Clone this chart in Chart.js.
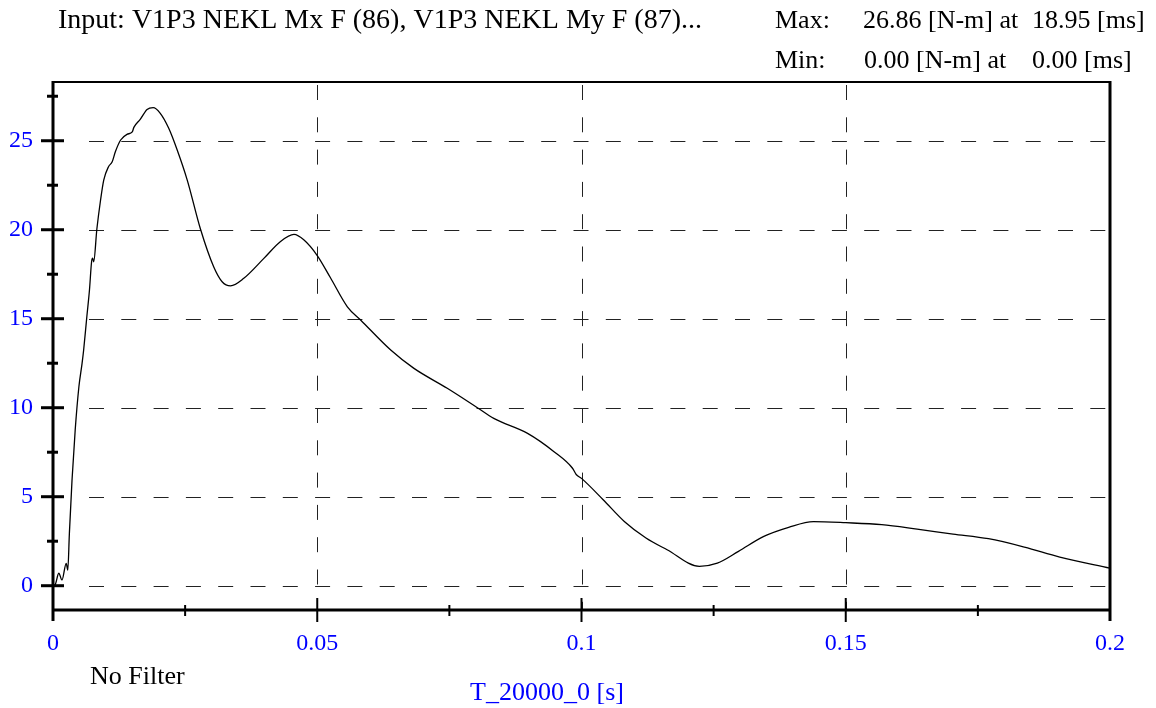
<!DOCTYPE html>
<html>
<head>
<meta charset="utf-8">
<script src="https://cdn.jsdelivr.net/npm/chart.js@4"></script>
<style>
  html, body { margin: 0; padding: 0; background: #fff; }
  canvas { display: block; }
</style>
</head>
<body>
<canvas id="momentChart" width="1156" height="708"></canvas>
<script>
// time [s] and resultant neck moment [N-m]
const times = [
  0, 0.0004, 0.0011, 0.0017, 0.0025, 0.0028, 0.0031, 0.0036, 0.0042, 0.0049,
  0.0055, 0.0058, 0.0064, 0.0069, 0.0073, 0.0075, 0.0077, 0.0083, 0.0090, 0.0096,
  0.0105, 0.0112, 0.0118, 0.0128, 0.0140, 0.0150, 0.0153, 0.0165, 0.0178, 0.01895,
  0.0203, 0.0219, 0.0235, 0.0254, 0.0279, 0.0304, 0.0320, 0.0336, 0.0361, 0.0399,
  0.0430, 0.0456, 0.0475, 0.0500, 0.0525, 0.0557, 0.0582, 0.0639, 0.0683, 0.0746,
  0.0803, 0.0834, 0.0898, 0.0948, 0.0983, 0.0990, 0.1000, 0.1041, 0.1081, 0.1122,
  0.1162, 0.1223, 0.1257, 0.1297, 0.1345, 0.1392, 0.1439, 0.1500, 0.1568, 0.1635,
  0.1703, 0.1770, 0.1838, 0.1905, 0.2000
];
const moments = [
  0, 0.05, 0.70, 0.32, 1.26, 0.88, 2.94, 5.94, 8.75, 11.18,
  12.49, 13.24, 15.11, 16.61, 18.2, 18.4, 18.2, 20.04, 21.67, 22.79,
  23.54, 23.82, 24.38, 25.04, 25.36, 25.5, 25.75, 26.2, 26.76, 26.86,
  26.54, 25.70, 24.48, 22.79, 20.04, 17.92, 17.08, 16.85, 17.27, 18.39,
  19.33, 19.74, 19.42, 18.55, 17.3, 15.67, 14.93, 13.24, 12.21, 11.09,
  10.0, 9.40, 8.56, 7.53, 6.60, 6.25, 6.03, 4.83, 3.61, 2.68,
  2.02, 1.09, 1.27, 1.93, 2.77, 3.28, 3.60, 3.54, 3.43, 3.18,
  2.90, 2.64, 2.17, 1.61, 0.99
];

const xTicks = [0, 0.05, 0.1, 0.15, 0.2];
const xTickLabels = ['0', '0.05', '0.1', '0.15', '0.2'];
const xMinorTicks = [0.025, 0.075, 0.125, 0.175];
const yTicks = [0, 5, 10, 15, 20, 25];
const yTickLabels = ['0', '5', '10', '15', '20', '25'];
const yMinorTicks = [2.5, 7.5, 12.5, 17.5, 22.5, 27.5];

const headerText = 'Input: V1P3 NEKL Mx F (86), V1P3 NEKL My F (87)...';
const maxLine = ['Max:', '26.86 [N-m] at', '18.95 [ms]'];
const minLine = ['Min:', '0.00 [N-m] at', '0.00 [ms]'];
const filterText = 'No Filter';
const xTitle = 'T_20000_0 [s]';

const SERIF = '"Liberation Serif", "Times New Roman", serif';
const BLUE = '#0000ff';

const points = times.map((t, i) => ({ x: t, y: moments[i] }));

// dashed grid under the curve
const gridPlugin = {
  id: 'dashGrid',
  beforeDatasetsDraw(chart) {
    const { ctx, chartArea: a, scales: { x, y } } = chart;
    ctx.save();
    ctx.strokeStyle = '#222';
    ctx.lineWidth = 1;
    ctx.setLineDash([15, 17.3]);
    yTicks.forEach(v => {
      const py = Math.round(y.getPixelForValue(v)) + 0.5;
      ctx.beginPath();
      ctx.moveTo(89, py);
      ctx.lineTo(a.right, py);
      ctx.stroke();
    });
    xTicks.slice(1, -1).forEach(v => {
      const px = Math.round(x.getPixelForValue(v)) + 0.5;
      ctx.beginPath();
      ctx.moveTo(px, a.top + 3);
      ctx.lineTo(px, a.bottom);
      ctx.stroke();
    });
    ctx.restore();
  }
};

// axes frame, tick marks and free text
const framePlugin = {
  id: 'frame',
  afterDatasetsDraw(chart) {
    const { ctx, chartArea: a, scales: { x, y } } = chart;
    ctx.save();
    ctx.setLineDash([]);
    ctx.strokeStyle = '#000';
    ctx.lineCap = 'butt';

    // top and right border
    ctx.lineWidth = 2;
    ctx.beginPath();
    ctx.moveTo(a.left, a.top);
    ctx.lineTo(a.right, a.top);
    ctx.stroke();
    ctx.lineWidth = 3;
    ctx.beginPath();
    ctx.moveTo(a.right, a.top - 1);
    ctx.lineTo(a.right, a.bottom + 11);
    ctx.stroke();

    // left and bottom axis lines
    ctx.beginPath();
    ctx.moveTo(a.left, a.top - 1);
    ctx.lineTo(a.left, a.bottom + 11);
    ctx.moveTo(a.left, a.bottom);
    ctx.lineTo(a.right, a.bottom);
    ctx.stroke();

    // y ticks
    yTicks.forEach(v => {
      const py = y.getPixelForValue(v);
      ctx.beginPath();
      ctx.moveTo(a.left - 12, py);
      ctx.lineTo(a.left + 11, py);
      ctx.stroke();
    });
    yMinorTicks.forEach(v => {
      const py = y.getPixelForValue(v);
      ctx.beginPath();
      ctx.moveTo(a.left - 6, py);
      ctx.lineTo(a.left + 5, py);
      ctx.stroke();
    });

    // x ticks
    ctx.lineWidth = 2;
    xTicks.slice(1, -1).forEach(v => {
      const px = x.getPixelForValue(v);
      ctx.beginPath();
      ctx.moveTo(px, a.bottom - 12);
      ctx.lineTo(px, a.bottom + 12);
      ctx.stroke();
    });
    xMinorTicks.forEach(v => {
      const px = x.getPixelForValue(v);
      ctx.beginPath();
      ctx.moveTo(px, a.bottom - 5);
      ctx.lineTo(px, a.bottom + 6);
      ctx.stroke();
    });

    // header and footer text
    ctx.fillStyle = '#000';
    ctx.textBaseline = 'alphabetic';
    ctx.textAlign = 'left';
    ctx.font = '28px ' + SERIF;
    ctx.fillText(headerText, 58, 28);
    ctx.font = '26px ' + SERIF;
    ctx.fillText(maxLine[0], 775, 28);
    ctx.fillText(maxLine[1], 863, 28);
    ctx.fillText(maxLine[2], 1032, 28);
    ctx.fillText(minLine[0], 775, 68);
    ctx.fillText(minLine[1], 864, 68);
    ctx.fillText(minLine[2], 1032, 68);
    ctx.fillText(filterText, 90, 684);

    ctx.fillStyle = BLUE;
    ctx.textAlign = 'center';
    ctx.fillText(xTitle, 547, 700);
    ctx.restore();
  }
};

new Chart(document.getElementById('momentChart'), {
  type: 'line',
  data: {
    datasets: [{
      data: points,
      borderColor: '#000',
      borderWidth: 1.3,
      pointRadius: 0,
      fill: false,
      cubicInterpolationMode: 'monotone'
    }]
  },
  options: {
    responsive: false,
    animation: false,
    layout: { padding: { top: 82, right: 46, left: 0, bottom: 0 } },
    plugins: {
      legend: { display: false },
      tooltip: { enabled: false }
    },
    scales: {
      x: {
        type: 'linear',
        min: 0,
        max: 0.2,
        afterBuildTicks: s => { s.ticks = xTicks.map(v => ({ value: v })); },
        afterFit: s => { s.height = 98; },
        grid: { display: false },
        border: { display: false },
        ticks: {
          color: BLUE,
          font: { family: SERIF, size: 24 },
          padding: 11,
          maxRotation: 0,
          autoSkip: false,
          callback: (v, i) => xTickLabels[i]
        }
      },
      y: {
        type: 'linear',
        min: -1.365,
        max: 28.3,
        afterBuildTicks: s => { s.ticks = yTicks.map(v => ({ value: v })); },
        afterFit: s => { s.width = 53; },
        grid: { display: false },
        border: { display: false },
        ticks: {
          color: BLUE,
          font: { family: SERIF, size: 24 },
          padding: 12,
          autoSkip: false,
          callback: (v, i) => yTickLabels[i]
        }
      }
    }
  },
  plugins: [gridPlugin, framePlugin]
});
</script>
</body>
</html>
